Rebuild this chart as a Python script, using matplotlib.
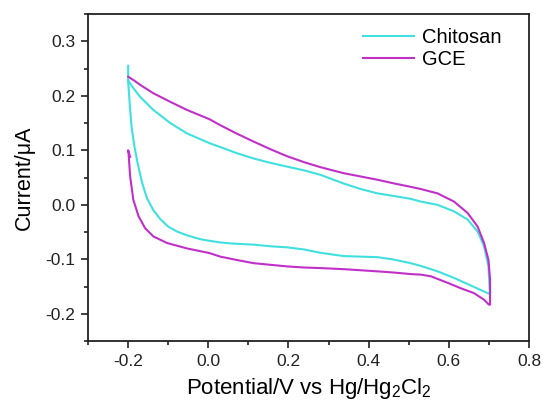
import matplotlib
matplotlib.use('Agg')
import matplotlib.pyplot as plt
from matplotlib.ticker import MultipleLocator

plt.rcParams['font.family'] = ['Liberation Sans', 'DejaVu Sans']
plt.rcParams['mathtext.fontset'] = 'custom'
plt.rcParams['mathtext.rm'] = 'Liberation Sans'
plt.rcParams['mathtext.it'] = 'Liberation Sans'

# Chitosan CV: anodic sweep (upper) then cathodic sweep (lower)
chitosan_E = [-0.2, -0.2, -0.185, -0.17, -0.137, -0.095, -0.053, 0.003, 0.03, 0.07, 0.113, 0.155,
              0.197, 0.24, 0.28, 0.338, 0.38, 0.422, 0.465, 0.505, 0.53, 0.572, 0.613, 0.647,
              0.672, 0.688, 0.699, 0.7025,
              0.70, 0.655, 0.613, 0.572, 0.53, 0.505, 0.46, 0.422, 0.38, 0.338, 0.28, 0.24,
              0.197, 0.155, 0.113, 0.06, 0.03, 0.003, -0.02, -0.053, -0.078, -0.1, -0.12,
              -0.137, -0.153, -0.165, -0.176, -0.185, -0.191, -0.195, -0.198, -0.2]
chitosan_I = [0.255, 0.228, 0.212, 0.198, 0.174, 0.150, 0.131, 0.113, 0.106, 0.095, 0.085, 0.077,
              0.070, 0.063, 0.055, 0.039, 0.029, 0.021, 0.016, 0.011, 0.006, 0.0, -0.012, -0.027,
              -0.049, -0.076, -0.113, -0.162,
              -0.163, -0.148, -0.134, -0.122, -0.112, -0.107, -0.100, -0.096, -0.095, -0.094, -0.088, -0.082,
              -0.078, -0.076, -0.073, -0.071, -0.069, -0.066, -0.063, -0.056, -0.049, -0.040, -0.026,
              -0.010, 0.012, 0.040, 0.075, 0.110, 0.140, 0.174, 0.205, 0.228]

# bare GCE CV
gce_E = [-0.2, -0.185, -0.17, -0.137, -0.095, -0.053, 0.003, 0.03, 0.07, 0.113, 0.155, 0.197,
         0.24, 0.28, 0.338, 0.38, 0.422, 0.465, 0.505, 0.53, 0.572, 0.613, 0.647, 0.672,
         0.688, 0.699, 0.703, 0.703,
         0.70, 0.688, 0.663, 0.63, 0.597, 0.555, 0.53, 0.505, 0.46, 0.422, 0.38, 0.338,
         0.28, 0.24, 0.197, 0.155, 0.113, 0.07, 0.03, 0.003, -0.053, -0.103, -0.137, -0.1575,
         -0.174, -0.187, -0.195, -0.199, -0.2, -0.195]
gce_I = [0.235, 0.228, 0.220, 0.2046, 0.189, 0.174, 0.157, 0.146, 0.131, 0.116, 0.102, 0.089,
         0.078, 0.069, 0.058, 0.052, 0.046, 0.039, 0.033, 0.029, 0.021, 0.006, -0.015, -0.040,
         -0.070, -0.101, -0.137, -0.183,
         -0.183, -0.174, -0.162, -0.153, -0.143, -0.131, -0.128, -0.127, -0.124, -0.122, -0.120, -0.118,
         -0.116, -0.115, -0.113, -0.110, -0.107, -0.101, -0.095, -0.0885, -0.080, -0.070, -0.058, -0.043,
         -0.021, 0.009, 0.052, 0.095, 0.100, 0.088]

fig = plt.figure(figsize=(5.47, 4.12), dpi=100)
ax = fig.add_axes([0.161, 0.172, 0.806, 0.794])

ax.plot(chitosan_E, chitosan_I, color='#40E0E0', lw=1.5, label='Chitosan')
ax.plot(gce_E, gce_I, color='#C030C8', lw=1.5, label='GCE')

ax.set_xlim(-0.3, 0.8)
ax.set_ylim(-0.25, 0.35)
ax.xaxis.set_minor_locator(MultipleLocator(0.1))
ax.yaxis.set_minor_locator(MultipleLocator(0.05))
ax.set_xticks([-0.2, 0.0, 0.2, 0.4, 0.6, 0.8])
ax.set_xticklabels(['-0.2', '0.0', '0.2', '0.4', '0.6', '0.8'])
ax.set_yticks([-0.2, -0.1, 0.0, 0.1, 0.2, 0.3])
ax.set_yticklabels(['-0.2', '-0.1', '0.0', '0.1', '0.2', '0.3'])
ax.tick_params(which='major', direction='out', length=5, width=1.2, labelsize=12.5,
               colors='#222222', pad=4)
ax.tick_params(which='minor', direction='out', length=3, width=1.2, colors='#222222')
for s in ax.spines.values():
    s.set_linewidth(1.3)
    s.set_color('#222222')

ax.set_xlabel('Potential/V vs Hg/Hg$_2$Cl$_2$', fontsize=16, labelpad=5)
ax.set_ylabel('Current/\u03bcA', fontsize=15.5, labelpad=8)

ax.legend(loc='upper right', frameon=False, fontsize=14.5, handlelength=2.55,
          handletextpad=0.4, labelspacing=0.15, borderaxespad=0.3,
          bbox_to_anchor=(0.97, 1.0))

fig.savefig('out.png', dpi=100)
